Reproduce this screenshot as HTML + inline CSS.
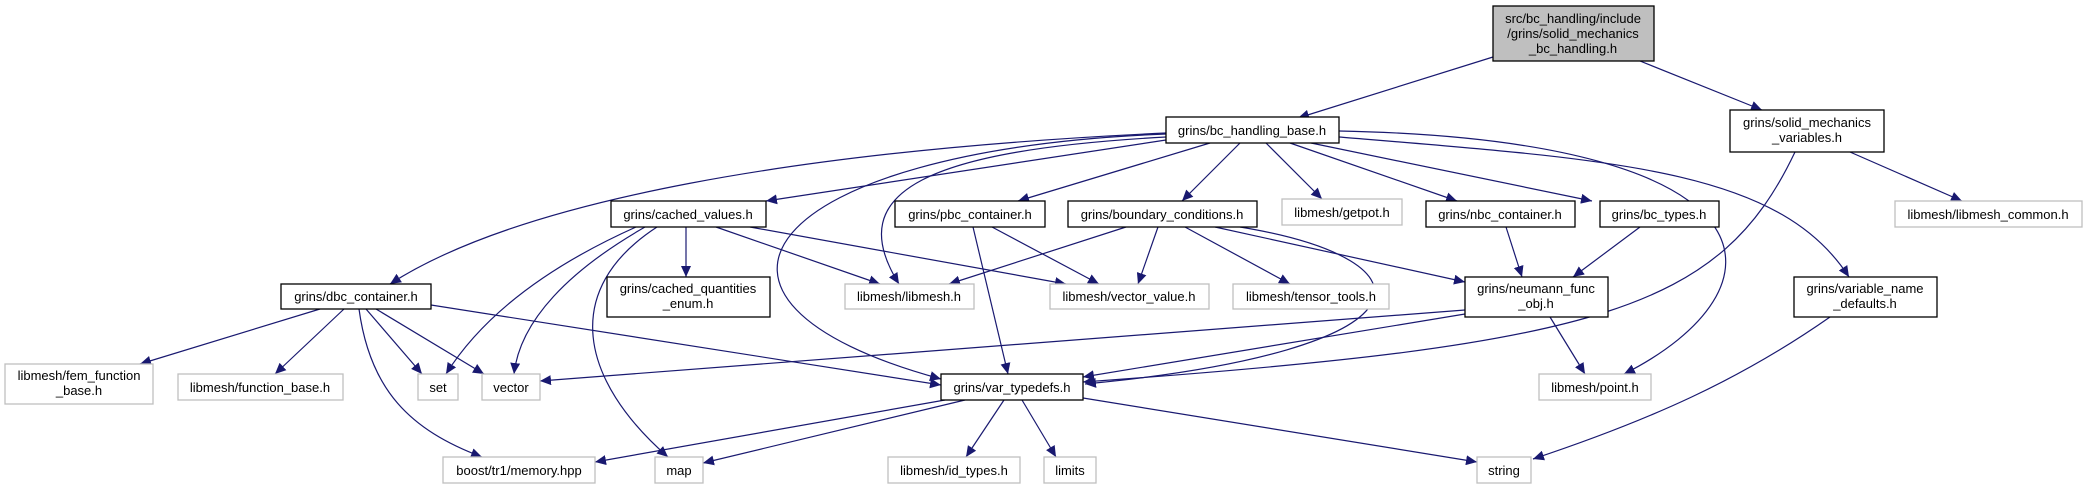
<!DOCTYPE html>
<html><head><meta charset="utf-8"><style>
html,body{margin:0;padding:0;background:#fff;}
svg{display:block;}
text{font-family:"Liberation Sans",sans-serif;font-size:13px;fill:#000;}
</style></head><body>
<svg width="2087" height="484" viewBox="0 0 2087 484" xmlns="http://www.w3.org/2000/svg">
<defs>
<marker id="a" markerWidth="12" markerHeight="10" refX="11" refY="5" orient="auto" markerUnits="userSpaceOnUse">
<path d="M0,0 L11,5 L0,10 Z" fill="#191970"/>
</marker>
</defs>
<g fill="none" stroke="#191970" stroke-width="1.2" marker-end="url(#a)">
<path d="M1493,57 L1298,118"/>
<path d="M1640,61 L1762,110"/>
<path d="M1166,133 C800,150 520,200 390,284"/>
<path d="M1166,140 L766,201"/>
<path d="M1166,137 C930,150 840,190 899,284"/>
<path d="M1166,134 C760,150 650,300 941,379"/>
<path d="M1210,143 L1018,201"/>
<path d="M1240,143 L1182,201"/>
<path d="M1266,143 L1322,199"/>
<path d="M1290,143 L1457,201"/>
<path d="M1311,143 L1592,201"/>
<path d="M1339,131 C1790,140 1790,290 1624,374"/>
<path d="M1339,137 C1620,160 1780,170 1849,277"/>
<path d="M1795,152 C1720,310 1600,345 1083,382"/>
<path d="M1850,152 L1962,201"/>
<path d="M686,227 L686,277"/>
<path d="M716,227 L880,284"/>
<path d="M750,227 L1066,284"/>
<path d="M636,227 C540,270 480,320 446,374"/>
<path d="M645,227 C570,270 520,320 514,374"/>
<path d="M657,227 C560,290 580,380 668,457"/>
<path d="M320,309 L140,364"/>
<path d="M344,309 L275,374"/>
<path d="M366,309 L422,374"/>
<path d="M376,309 L484,374"/>
<path d="M359,309 C370,390 410,430 482,457"/>
<path d="M431,305 L941,385"/>
<path d="M973,227 L1008,374"/>
<path d="M992,227 L1099,284"/>
<path d="M1126,227 L949,284"/>
<path d="M1158,227 L1138,284"/>
<path d="M1185,227 L1290,284"/>
<path d="M1215,227 L1465,282"/>
<path d="M1240,227 C1440,260 1440,350 1085,384"/>
<path d="M1506,227 L1522,277"/>
<path d="M1640,227 L1573,277"/>
<path d="M1465,310 L540,381"/>
<path d="M1465,314 L1083,377"/>
<path d="M1550,317 L1585,374"/>
<path d="M1830,317 C1740,380 1650,420 1533,459"/>
<path d="M945,400 L595,462"/>
<path d="M965,400 L703,463"/>
<path d="M1004,400 L966,457"/>
<path d="M1022,400 L1056,457"/>
<path d="M1083,398 L1477,462"/>
</g>
<g stroke-width="1.3">
<rect x="1493" y="6" width="161" height="55" fill="#bfbfbf" stroke="#000"/>
<g fill="#fff" stroke="#000">
<rect x="1166" y="117" width="173" height="26"/>
<rect x="1730" y="110" width="154" height="42"/>
<rect x="611" y="201" width="155" height="26"/>
<rect x="895" y="201" width="150" height="26"/>
<rect x="1068" y="201" width="189" height="26"/>
<rect x="1426" y="201" width="149" height="26"/>
<rect x="1600" y="201" width="119" height="26"/>
<rect x="281" y="284" width="150" height="25"/>
<rect x="607" y="277" width="163" height="40"/>
<rect x="1465" y="277" width="143" height="40"/>
<rect x="1794" y="277" width="143" height="40"/>
<rect x="941" y="374" width="142" height="26"/>
</g>
<g fill="#fff" stroke="#bfbfbf">
<rect x="1282" y="199" width="120" height="26"/>
<rect x="1895" y="201" width="187" height="26"/>
<rect x="845" y="284" width="129" height="25"/>
<rect x="1050" y="284" width="159" height="25"/>
<rect x="1233" y="284" width="156" height="25"/>
<rect x="5" y="364" width="148" height="40"/>
<rect x="178" y="374" width="165" height="26"/>
<rect x="418" y="374" width="40" height="26"/>
<rect x="482" y="374" width="58" height="26"/>
<rect x="1539" y="374" width="112" height="26"/>
<rect x="443" y="457" width="152" height="26"/>
<rect x="655" y="457" width="48" height="26"/>
<rect x="888" y="457" width="132" height="26"/>
<rect x="1044" y="457" width="52" height="26"/>
<rect x="1477" y="457" width="54" height="26"/>
</g>
</g>
<g text-anchor="middle">
<text x="1573" y="23">src/bc_handling/include</text>
<text x="1573" y="38">/grins/solid_mechanics</text>
<text x="1573" y="53">_bc_handling.h</text>
<text x="1252" y="135">grins/bc_handling_base.h</text>
<text x="1807" y="127">grins/solid_mechanics</text>
<text x="1807" y="142">_variables.h</text>
<text x="688" y="219">grins/cached_values.h</text>
<text x="970" y="219">grins/pbc_container.h</text>
<text x="1162" y="219">grins/boundary_conditions.h</text>
<text x="1500" y="219">grins/nbc_container.h</text>
<text x="1659" y="219">grins/bc_types.h</text>
<text x="1342" y="217">libmesh/getpot.h</text>
<text x="1988" y="219">libmesh/libmesh_common.h</text>
<text x="356" y="301">grins/dbc_container.h</text>
<text x="688" y="293">grins/cached_quantities</text>
<text x="688" y="308">_enum.h</text>
<text x="1536" y="293">grins/neumann_func</text>
<text x="1536" y="308">_obj.h</text>
<text x="1865" y="293">grins/variable_name</text>
<text x="1865" y="308">_defaults.h</text>
<text x="909" y="301">libmesh/libmesh.h</text>
<text x="1129" y="301">libmesh/vector_value.h</text>
<text x="1311" y="301">libmesh/tensor_tools.h</text>
<text x="79" y="380">libmesh/fem_function</text>
<text x="79" y="395">_base.h</text>
<text x="260" y="392">libmesh/function_base.h</text>
<text x="438" y="392">set</text>
<text x="511" y="392">vector</text>
<text x="1012" y="392">grins/var_typedefs.h</text>
<text x="1595" y="392">libmesh/point.h</text>
<text x="519" y="475">boost/tr1/memory.hpp</text>
<text x="679" y="475">map</text>
<text x="954" y="475">libmesh/id_types.h</text>
<text x="1070" y="475">limits</text>
<text x="1504" y="475">string</text>
</g>
</svg>
</body></html>
